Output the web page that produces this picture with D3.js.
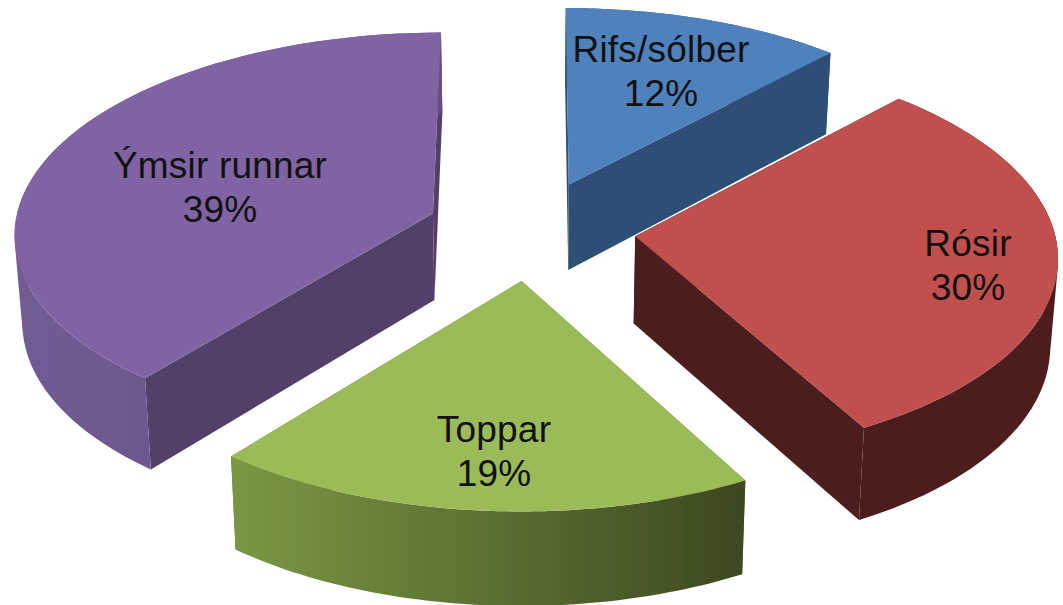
<!DOCTYPE html>
<html><head><meta charset="utf-8">
<script src="https://cdn.jsdelivr.net/npm/d3@7"></script>
<style>html,body{margin:0;padding:0;background:#fff;overflow:hidden}</style>
</head><body><svg id="c" width="1063" height="605"></svg>
<script>
const categories = ["Rifs/sólber", "Rósir", "Toppar", "Ýmsir runnar"];
const shares = [12, 30, 18.8, 39.2];
const shareLabels = ["12%", "30%", "19%", "39%"];
const topColors = ["#4f81bd", "#c0504d", "#9bbb59", "#8064a2"];
const cutColors = ["#2e4f74", "#4d1f1e", "#5c7232", "#533f69"];
const wallFrom = ["#2e4f74", "#4d1f1e", "#7a9843", "#725b94"];
const wallTo = ["#2e4f74", "#4d1f1e", "#3c4820", "#644f82"];
const labelX = [661, 968, 494, 220];
const labelY = [62, 256, 442, 178];
const drawOrder = [0, 3, 1, 2];

const cx = 531, cy = 230, A = 419, B = 200, persp = 0.09, explode = 0.25;
const svg = d3.select("#c");
const defs = svg.append("defs");
defs.append("filter").attr("id", "soft").attr("x", "-5%").attr("y", "-5%").attr("width", "110%").attr("height", "110%")
  .append("feGaussianBlur").attr("stdDeviation", 0.55);

const pie = d3.pie().sort(null).value(d => d);
const arcs = pie(shares);
const line = d3.line();

// perspective projection of the ground plane; z = 0 top face, z = 1 bottom face
function project(u, v, z) {
  const s = 1 / (1 - persp * v);
  const x = A * u * s, y = B * v * s;
  if (!z) return [cx + x, cy + y];
  return [cx + x * 0.985, cy + y + 87 + 6 * v];
}
const g = svg.append("g").attr("filter", "url(#soft)");

drawOrder.forEach(i => {
  const a = arcs[i];
  const mid = (a.startAngle + a.endAngle) / 2;
  const ou = explode * Math.sin(mid), ov = -explode * Math.cos(mid);
  const angles = d3.range(0, 61).map(k => a.startAngle + (a.endAngle - a.startAngle) * k / 60);
  const rim = z => angles.map(t => project(ou + Math.sin(t), ov - Math.cos(t), z));
  const tip = z => project(ou, ov, z);

  const gradId = "wall" + i;
  const grad = defs.append("linearGradient").attr("id", gradId)
    .attr("x1", 0).attr("x2", 1).attr("y1", 0).attr("y2", 0);
  grad.append("stop").attr("offset", 0).attr("stop-color", wallFrom[i]);
  grad.append("stop").attr("offset", 1).attr("stop-color", wallTo[i]);

  const top = rim(0), bottom = rim(1);
  [0, 60].forEach(k => {
    g.append("path").attr("d", line([tip(0), top[k], bottom[k], tip(1)]) + "Z").attr("fill", cutColors[i]);
  });
  // the wall is a run of quads, so the silhouette between rims stays filled
  const strips = d3.range(60).map(k => {
    const q = [top[k], top[k + 1], bottom[k + 1], bottom[k]];
    const area = d3.polygonArea(q);
    return line(area > 0 ? q : q.slice().reverse()) + "Z";
  }).join("");
  g.append("path").attr("d", strips).attr("fill", `url(#${gradId})`);
  g.append("path").attr("d", line([tip(0)].concat(top)) + "Z").attr("fill", topColors[i]);
});

const labels = svg.append("g").attr("font-family", "'Liberation Sans', Arial, sans-serif")
  .attr("font-size", 37).attr("letter-spacing", 0.2).attr("fill", "#111").attr("text-anchor", "middle");
categories.forEach((c, i) => {
  labels.append("text").attr("x", labelX[i]).attr("y", labelY[i]).text(c);
  labels.append("text").attr("x", labelX[i]).attr("y", labelY[i] + 44).text(shareLabels[i]);
});
</script></body></html>
